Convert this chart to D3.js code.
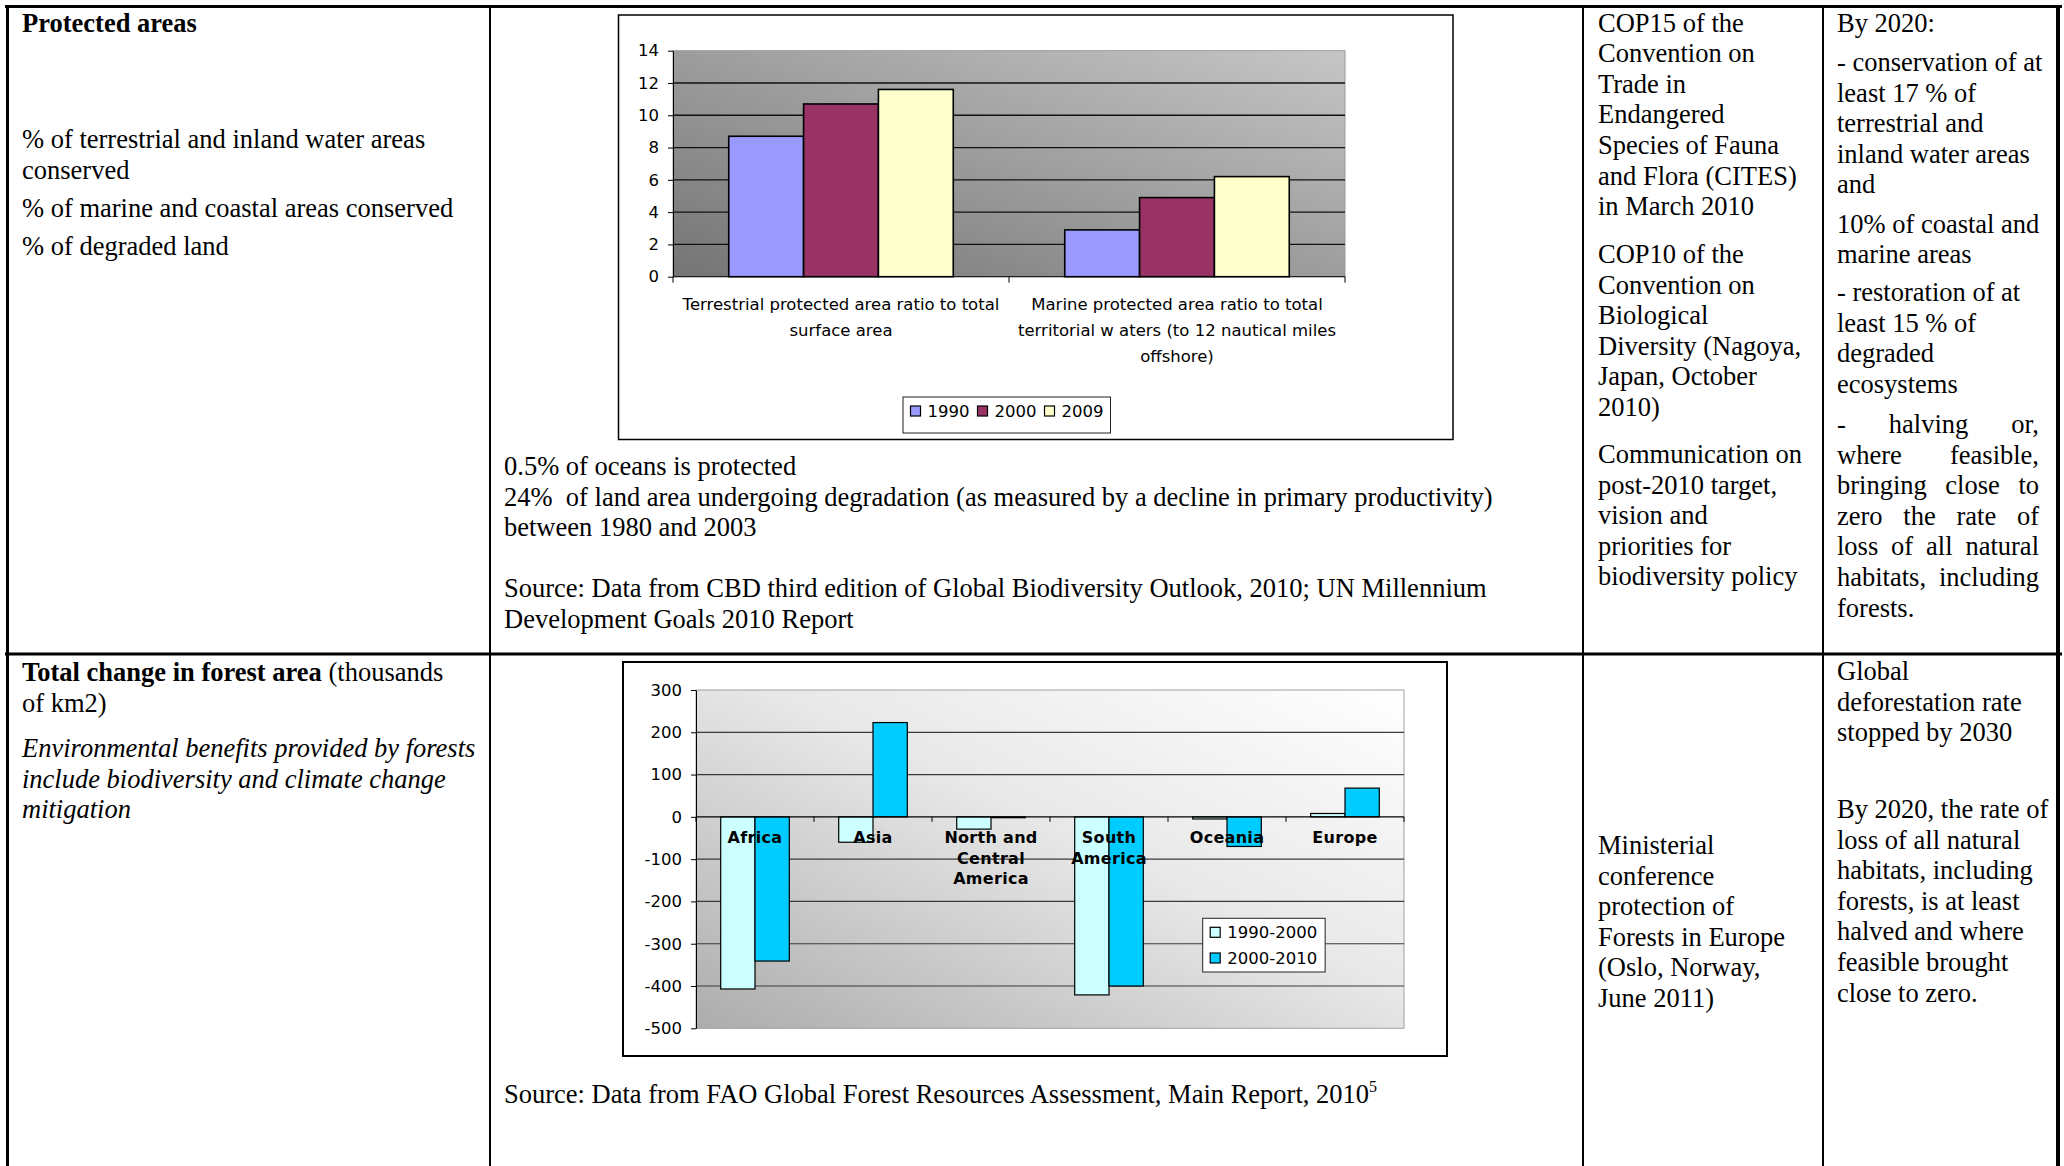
<!DOCTYPE html>
<html>
<head>
<meta charset="utf-8">
<script src="https://cdn.jsdelivr.net/npm/d3@7"></script>
<style>
  body { margin: 0; background: #fff; }
  svg { display: block; }
  .serif { font-family: "Liberation Serif", "Times New Roman", serif; font-size: 26.5px; fill: #000; white-space: pre; }
  .chart text { font-family: "DejaVu Sans", sans-serif; font-size: 16.5px; fill: #000; white-space: pre; }
</style>
</head>
<body>
<svg id="page" width="2064" height="1166"></svg>
<script>
// protected areas chart
const protCategories = ['terrestrial', 'marine'];
const protCategoryLabels = [
  ['Terrestrial protected area ratio to total', 'surface area'],
  ['Marine protected area ratio to total', 'territorial w aters (to 12 nautical miles', 'offshore)'],
];
const protYears = ['1990', '2000', '2009'];
const prot1990 = [8.7, 2.9];
const prot2000 = [10.7, 4.9];
const prot2009 = [11.6, 6.2];
const protTicks = [0, 2, 4, 6, 8, 10, 12, 14];
const protColors = ['#9999ff', '#993366', '#ffffcc'];

// forest area chart
const forestRegions = ['Africa', 'Asia', 'North and Central America', 'South America', 'Oceania', 'Europe'];
const forestRegionLabels = [['Africa'], ['Asia'], ['North and', 'Central', 'America'], ['South', 'America'], ['Oceania'], ['Europe']];
const forestPeriods = ['1990-2000', '2000-2010'];
const forest1990 = [-407, -60, -29, -421, -5, 8];
const forest2000 = [-341, 223, -2, -400, -70, 68];
const forestTicks = [300, 200, 100, 0, -100, -200, -300, -400, -500];
const forestColors = ['#ccffff', '#00ccff'];

// table texts
const protIndicators = [['% of terrestrial and inland water areas', 'conserved'], ['% of marine and coastal areas conserved'], ['% of degraded land']];
const protNotes = [
  ['0.5% of oceans is protected', '24%  of land area undergoing degradation (as measured by a decline in primary productivity)', 'between 1980 and 2003'],
  ['Source: Data from CBD third edition of Global Biodiversity Outlook, 2010; UN Millennium', 'Development Goals 2010 Report'],
];
const protPolicy = [
  ['COP15 of the', 'Convention on', 'Trade in', 'Endangered', 'Species of Fauna', 'and Flora (CITES)', 'in March 2010'],
  ['COP10 of the', 'Convention on', 'Biological', 'Diversity (Nagoya,', 'Japan, October', '2010)'],
  ['Communication on', 'post-2010 target,', 'vision and', 'priorities for', 'biodiversity policy'],
];
const protTargets = [
  ['By 2020:'],
  ['- conservation of at', 'least 17 % of', 'terrestrial and', 'inland water areas', 'and'],
  ['10% of coastal and', 'marine areas'],
  ['- restoration of at', 'least 15 % of', 'degraded', 'ecosystems'],
  ['- halving or,', 'where feasible,', 'bringing close to', 'zero the rate of', 'loss of all natural', 'habitats, including', 'forests.'],
];
const forestIndicator = ['of km2)'];
const forestBenefits = ['Environmental benefits provided by forests', 'include biodiversity and climate change', 'mitigation'];
const forestPolicy = ['Ministerial', 'conference', 'protection of', 'Forests in Europe', '(Oslo, Norway,', 'June 2011)'];
const forestTargets = [
  ['Global', 'deforestation rate', 'stopped by 2030'],
  ['By 2020, the rate of', 'loss of all natural', 'habitats, including', 'forests, is at least', 'halved and where', 'feasible brought', 'close to zero.'],
];

const svg = d3.select('#page');
const step = 30.6;

// ---- table grid
const grid = svg.append('g').attr('stroke', '#000');
grid.append('line').attr('x1', 5).attr('x2', 2062).attr('y1', 6.5).attr('y2', 6.5).attr('stroke-width', 3);
grid.append('line').attr('x1', 5).attr('x2', 2062).attr('y1', 654).attr('y2', 654).attr('stroke-width', 3);
grid.append('line').attr('x1', 7.5).attr('x2', 7.5).attr('y1', 5).attr('y2', 1166).attr('stroke-width', 3);
grid.append('line').attr('x1', 2058).attr('x2', 2058).attr('y1', 5).attr('y2', 1166).attr('stroke-width', 4);
[490, 1583, 1823].forEach(x => {
  grid.append('line').attr('x1', x).attr('x2', x).attr('y1', 6).attr('y2', 1166).attr('stroke-width', 2);
});

function para(x, y, lines, style) {
  lines.forEach((l, i) => {
    const t = svg.append('text').attr('class', 'serif').attr('x', x).attr('y', y + i * step).text(l);
    if (style) t.style('font-style', style);
  });
}

// spread the words of a line so it fills the cell width
function justify(x, y, line, right) {
  const words = line.split(' ');
  const t = svg.append('text').attr('class', 'serif').attr('y', y);
  const spans = words.map(w => t.append('tspan').text(w));
  const widths = spans.map(s => s.node().getComputedTextLength());
  const gap = (right - x - d3.sum(widths)) / (words.length - 1);
  let cx = x;
  spans.forEach((s, i) => { s.attr('x', cx); cx += widths[i] + gap; });
}

// ---- row 1 texts
svg.append('text').attr('class', 'serif').attr('x', 22).attr('y', 31.5)
  .style('font-weight', 'bold').text('Protected areas');
[148, 217, 255].forEach((y, i) => para(22, y, protIndicators[i]));
para(504, 475, protNotes[0]);
para(504, 597, protNotes[1]);
[31.5, 263, 463].forEach((y, i) => para(1598, y, protPolicy[i]));
[31.5, 71, 232.7, 301].forEach((y, i) => para(1837, y, protTargets[i]));
protTargets[4].forEach((l, i) => {
  const y = 433 + i * step;
  if (i < protTargets[4].length - 1) justify(1837, y, l, 2039);
  else para(1837, y, [l]);
});

// ---- row 2 texts
const t2 = svg.append('text').attr('class', 'serif').attr('x', 22).attr('y', 681);
t2.append('tspan').style('font-weight', 'bold').text('Total change in forest area');
t2.append('tspan').text(' (thousands');
para(22, 711.5, forestIndicator);
para(22, 757, forestBenefits, 'italic');
const src = svg.append('text').attr('class', 'serif').attr('x', 504).attr('y', 1103)
  .text('Source: Data from FAO Global Forest Resources Assessment, Main Report, 2010');
src.append('tspan').attr('dy', -11).style('font-size', '16px').text('5');
para(1598, 854, forestPolicy);
para(1837, 680, forestTargets[0]);
para(1837, 818, forestTargets[1]);

// ---- gradients
const defs = svg.append('defs');
const g1 = defs.append('linearGradient').attr('id', 'bg1')
  .attr('x1', 0).attr('y1', 1).attr('x2', 1).attr('y2', 0);
g1.append('stop').attr('offset', 0).attr('stop-color', '#747474');
g1.append('stop').attr('offset', 1).attr('stop-color', '#c6c6c6');
const g2 = defs.append('linearGradient').attr('id', 'bg2')
  .attr('x1', 0).attr('y1', 1).attr('x2', 1).attr('y2', 0);
g2.append('stop').attr('offset', 0).attr('stop-color', '#acacac');
g2.append('stop').attr('offset', 0.55).attr('stop-color', '#e8e8e8');
g2.append('stop').attr('offset', 1).attr('stop-color', '#ffffff');

function legend(g, x, y, names, colors, vertical) {
  const box = g.append('rect').attr('fill', '#fff').attr('stroke', '#222').attr('stroke-width', 1);
  let cx = x + 7.5;
  let cy = y + 14;
  let maxW = 0;
  names.forEach((n, i) => {
    g.append('rect').attr('x', cx).attr('y', cy - 5).attr('width', 10).attr('height', 10)
      .attr('fill', colors[i]).attr('stroke', '#000').attr('stroke-width', 1.2);
    const t = g.append('text').attr('x', cx + 17).attr('y', cy).attr('dy', '0.36em').text(n);
    const w = t.node().getComputedTextLength();
    maxW = Math.max(maxW, w);
    if (vertical) cy += 25.7;
    else cx += 17 + w + 8;
  });
  if (vertical) box.attr('x', x).attr('y', y).attr('width', 7.5 + 17 + maxW + 8).attr('height', cy - y - 25.7 + 14);
  else box.attr('x', x).attr('y', y).attr('width', cx - x - 1).attr('height', 36);
}

// ---- chart 1: protected areas
const ch1 = svg.append('g').attr('class', 'chart');
ch1.append('rect').attr('x', 618.5).attr('y', 15).attr('width', 834.5).attr('height', 424.5)
  .attr('fill', '#fff').attr('stroke', '#000').attr('stroke-width', 1.5);
const p1 = { left: 673, right: 1345, top: 50.7, bottom: 276.7 };
const y1 = d3.scaleLinear().domain([0, 14]).range([p1.bottom, p1.top]);
const x1 = d3.scaleBand().domain(protCategories).range([p1.left, p1.right]);
const x1s = d3.scaleBand().domain(protYears).range([0, x1.bandwidth()]).paddingOuter(0.745);
ch1.append('rect').attr('x', p1.left).attr('y', p1.top).attr('width', p1.right - p1.left)
  .attr('height', p1.bottom - p1.top).attr('fill', 'url(#bg1)').attr('stroke', '#9a9a9a');
ch1.selectAll('.grid').data(protTicks.filter(d => d > 0 && d < 14)).enter().append('line')
  .attr('x1', p1.left).attr('x2', p1.right).attr('y1', d => y1(d)).attr('y2', d => y1(d))
  .attr('stroke', '#111').attr('stroke-width', 1.3);
const protSeries = [prot1990, prot2000, prot2009];
protYears.forEach((yr, s) => {
  ch1.selectAll('.bar' + yr).data(protSeries[s]).enter().append('rect')
    .attr('x', (d, i) => x1(protCategories[i]) + x1s(yr))
    .attr('width', x1s.bandwidth())
    .attr('y', d => y1(d))
    .attr('height', d => y1(0) - y1(d))
    .attr('fill', protColors[s]).attr('stroke', '#000').attr('stroke-width', 1.6);
});
const ax1 = ch1.append('g').attr('transform', `translate(${p1.left},0)`)
  .call(d3.axisLeft(y1).tickValues(protTicks).tickFormat(d => String(d))
    .tickSize(5).tickPadding(9).tickSizeOuter(0));
ax1.select('.domain').attr('stroke', '#000');
ax1.selectAll('text').style('font-family', '"DejaVu Sans", sans-serif').style('font-size', '16.5px');
ch1.append('line').attr('x1', p1.left).attr('x2', p1.right).attr('y1', p1.bottom).attr('y2', p1.bottom).attr('stroke', '#000');
[p1.left, p1.left + x1.bandwidth(), p1.right].forEach(x => {
  ch1.append('line').attr('x1', x).attr('x2', x).attr('y1', p1.bottom).attr('y2', p1.bottom + 6).attr('stroke', '#000');
});
protCategoryLabels.forEach((lines, i) => {
  lines.forEach((l, j) => {
    ch1.append('text').attr('x', x1(protCategories[i]) + x1.bandwidth() / 2).attr('y', 310 + j * 25.8)
      .attr('text-anchor', 'middle').text(l);
  });
});
legend(ch1.append('g'), 903, 397, protYears, protColors, false);

// ---- chart 2: forest area
const ch2 = svg.append('g').attr('class', 'chart');
ch2.append('rect').attr('x', 623).attr('y', 662).attr('width', 824).attr('height', 394)
  .attr('fill', '#fff').attr('stroke', '#000').attr('stroke-width', 2);
const p2 = { left: 696, right: 1404, top: 690, bottom: 1028.3 };
const y2 = d3.scaleLinear().domain([-500, 300]).range([p2.bottom, p2.top]);
const x2 = d3.scaleBand().domain(forestRegions).range([p2.left, p2.right]);
const x2s = d3.scaleBand().domain(forestPeriods).range([0, x2.bandwidth()]).paddingOuter(0.72);
ch2.append('rect').attr('x', p2.left).attr('y', p2.top).attr('width', p2.right - p2.left)
  .attr('height', p2.bottom - p2.top).attr('fill', 'url(#bg2)').attr('stroke', '#a0a0a0');
ch2.selectAll('.grid').data(forestTicks.filter(d => d !== 0 && d < 300 && d > -500)).enter().append('line')
  .attr('x1', p2.left).attr('x2', p2.right).attr('y1', d => y2(d)).attr('y2', d => y2(d))
  .attr('stroke', '#3a3a3a').attr('stroke-width', 1.2);
const forestSeries = [forest1990, forest2000];
forestPeriods.forEach((p, s) => {
  ch2.selectAll('.bar' + s).data(forestSeries[s]).enter().append('rect')
    .attr('x', (d, i) => x2(forestRegions[i]) + x2s(p))
    .attr('width', x2s.bandwidth())
    .attr('y', d => y2(Math.max(0, d)))
    .attr('height', d => Math.abs(y2(d) - y2(0)))
    .attr('fill', forestColors[s]).attr('stroke', '#000').attr('stroke-width', 1.2);
});
const ax2 = ch2.append('g').attr('transform', `translate(${p2.left},0)`)
  .call(d3.axisLeft(y2).tickValues(forestTicks).tickFormat(d => String(d))
    .tickSize(5).tickPadding(9).tickSizeOuter(0));
ax2.select('.domain').attr('stroke', '#000');
ax2.selectAll('text').style('font-family', '"DejaVu Sans", sans-serif').style('font-size', '16.5px');
ch2.append('line').attr('x1', p2.left).attr('x2', p2.right).attr('y1', y2(0)).attr('y2', y2(0)).attr('stroke', '#000').attr('stroke-width', 1.3);
d3.range(forestRegions.length + 1).forEach(k => {
  const x = p2.left + k * x2.bandwidth();
  ch2.append('line').attr('x1', x).attr('x2', x).attr('y1', y2(0)).attr('y2', y2(0) + 5).attr('stroke', '#000');
});
forestRegionLabels.forEach((lines, i) => {
  lines.forEach((l, j) => {
    ch2.append('text').attr('x', x2(forestRegions[i]) + x2.bandwidth() / 2).attr('y', 843 + j * 20.6)
      .attr('text-anchor', 'middle').style('font-weight', 'bold').style('font-size', '16px')
      .style('letter-spacing', '0.3px').text(l);
  });
});
legend(ch2.append('g'), 1202.7, 918.3, forestPeriods, forestColors, true);
</script>
</body>
</html>
